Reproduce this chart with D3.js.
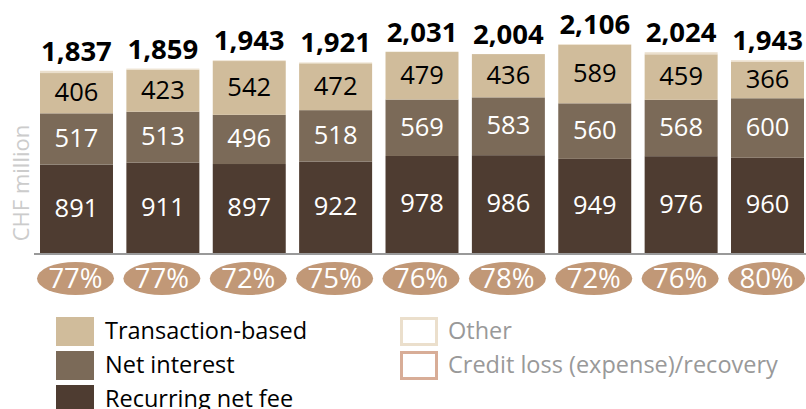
<!DOCTYPE html>
<html><head><meta charset="utf-8">
<script src="https://cdn.jsdelivr.net/npm/d3@7"></script>
<style>
html,body{margin:0;padding:0;background:#fff;}
svg{display:block;font-family:"Open Sans",sans-serif;}
</style></head>
<body>
<svg id="c" width="806" height="409"></svg>
<script>
const categories = ["P1","P2","P3","P4","P5","P6","P7","P8","P9"];
const recurringNetFee = [891,911,897,922,978,986,949,976,960];
const netInterest = [517,513,496,518,569,583,560,568,600];
const transactionBased = [406,423,542,472,479,436,589,459,366];
const other = [23,12,8,9,5,0,8,21,17];
const totals = [1837,1859,1943,1921,2031,2004,2106,2024,1943];
const percentLabels = ["77%","77%","72%","75%","76%","78%","72%","76%","80%"];
const legendLeft = ["Transaction-based","Net interest","Recurring net fee"];
const legendRight = ["Other","Credit loss (expense)/recovery"];

const colors = {rec:"#4e3c31", ni:"#7b6a58", tx:"#d0bc9b", other:"#ebdfcc", credit:"#d8ad97", ell:"#c19877"};

const svg = d3.select("#c");
const x = d3.scaleBand().domain(categories).range([40,804]).paddingInner(0.155).paddingOuter(0);
const y = d3.scaleLinear().domain([0,2500]).range([253, 253-2500*0.0992]);

const keys = ["rec","ni","tx","other"];
const rows = categories.map((c,i)=>({cat:c, rec:recurringNetFee[i], ni:netInterest[i], tx:transactionBased[i], other:other[i]}));
const stack = d3.stack().keys(keys)(rows);

svg.append("g").selectAll("g").data(stack).join("g")
  .attr("fill", d=>colors[d.key])
  .selectAll("rect").data(d=>d).join("rect")
  .attr("x", d=>x(d.data.cat)).attr("width", x.bandwidth())
  .attr("y", d=>y(d[1])).attr("height", d=>y(d[0])-y(d[1]));

// segment labels
const labelLayers = [{k:"rec",fill:"#fff"},{k:"ni",fill:"#fff"},{k:"tx",fill:"#000"}];
labelLayers.forEach(L=>{
  const layer = stack.find(s=>s.key===L.k);
  svg.append("g").selectAll("text").data(layer).join("text")
    .attr("x", d=>x(d.data.cat)+x.bandwidth()/2)
    .attr("y", d=>(y(d[0])+y(d[1]))/2 - 1)
    .attr("dy","0.35em")
    .attr("text-anchor","middle")
    .attr("font-size",25.5).attr("fill",L.fill)
    .text(d=>d.data[L.k]);
});

// totals
svg.append("g").selectAll("text").data(categories).join("text")
  .attr("x", (c)=>x(c)+x.bandwidth()/2)
  .attr("y", (c,i)=>y(totals[i])-10)
  .attr("text-anchor","middle").attr("font-weight","bold")
  .attr("font-size",27.5).attr("fill","#000")
  .text((c,i)=>d3.format(",")(totals[i]));

// axis line
svg.append("line").attr("x1",34).attr("x2",806).attr("y1",254).attr("y2",254)
  .attr("stroke","#999").attr("stroke-width",2);

// y title
svg.append("text").attr("transform","translate(29,183) rotate(-90)")
  .attr("text-anchor","middle").attr("font-size",22).attr("fill","#cccccc").text("CHF million");

// ellipses
const eg = svg.append("g").selectAll("g").data(categories).join("g")
  .attr("transform", c=>`translate(${x(c)+x.bandwidth()/2-1},278.5)`);
eg.append("ellipse").attr("rx",38.5).attr("ry",16.5).attr("fill",colors.ell);
eg.append("text").attr("text-anchor","middle").attr("dy","0.36em")
  .attr("font-size",27.5).attr("fill","#fff").text((c,i)=>percentLabels[i]);

// legend left
const lcol = [colors.tx, colors.ni, colors.rec];
const lg = svg.append("g").selectAll("g").data(legendLeft).join("g")
  .attr("transform",(d,i)=>`translate(56,${317+i*34})`);
lg.append("rect").attr("width",38).attr("height",29).attr("fill",(d,i)=>lcol[i]);
lg.append("text").attr("x",49).attr("y",22).attr("font-size",23.5).attr("fill","#000").text(d=>d);

// legend right
const rcol = [colors.other, colors.credit];
const rg = svg.append("g").selectAll("g").data(legendRight).join("g")
  .attr("transform",(d,i)=>`translate(400,${317+i*34})`);
rg.append("rect").attr("x",1.5).attr("y",1.5).attr("width",35).attr("height",26)
  .attr("fill","#fff").attr("stroke",(d,i)=>rcol[i]).attr("stroke-width",3);
rg.append("text").attr("x",48).attr("y",22).attr("font-size",23.5).attr("fill","#999").text(d=>d);
</script>
</body></html>
